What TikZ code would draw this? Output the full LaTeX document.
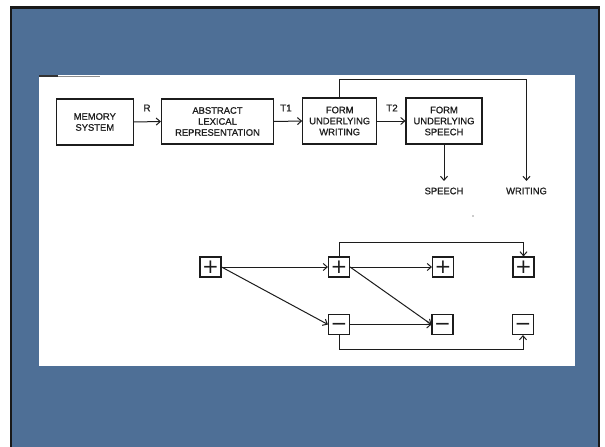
\documentclass[tikz,border=0pt]{standalone}
\usepackage{fontspec}
\setmainfont{Liberation Sans}[FakeBold=0.7]
\newfontfamily\symfont{DejaVu Sans}
\usetikzlibrary{arrows.meta}
\definecolor{bgblue}{RGB}{78,111,150}
\definecolor{ink}{RGB}{28,28,28}
\begin{document}
\begin{tikzpicture}[x=1pt,y=-1pt,
  blk/.style={draw=ink, line width=1.1pt, align=center, font=\fontsize{9.4}{11}\selectfont, text=ink, inner sep=0pt},
  lbl/.style={font=\fontsize{9.8}{11}\selectfont, text=ink, inner sep=0pt},
  endlbl/.style={font=\fontsize{9.4}{11}\selectfont, text=ink, inner sep=0pt},
  arr/.style={draw=ink, line width=1pt, -{Straight Barb[length=4pt,width=7pt]}},
  sgn/.style={draw=ink, line width=1.1pt, minimum width=21pt, minimum height=20pt, inner sep=0pt, font=\symfont\fontsize{20}{20}\selectfont, text=ink}]
\useasboundingbox (0,0) rectangle (605,447);
% slide background
\fill[white] (0,0) rectangle (605,447);
\fill[bgblue] (11,7.5) rectangle (599,447);
\draw[line width=2.2pt, draw=black!90] (11,447) -- (11,7.5) -- (599,7.5) -- (599,447);
% white panel
\fill[white] (39,75) rectangle (575,366);
\draw[line width=1.4pt, black!80] (39,76) -- (58,76);
\draw[line width=0.8pt, black!45] (58,76.5) -- (100,76.5);
\fill[black!40] (473,216) circle (0.8pt);
% top diagram
\node[blk, minimum width=77pt, minimum height=46pt] (mem) at (94.8,122) {MEMORY\\SYSTEM};
\node[blk, minimum width=112pt, minimum height=45pt] (abs) at (217.5,121.5) {ABSTRACT\\LEXICAL\\REPRESENTATION};
\node[blk, minimum width=74pt, minimum height=46pt] (wrt) at (339.7,121) {FORM\\UNDERLYING\\WRITING};
\node[blk, minimum width=76pt, minimum height=46pt] (spc) at (444,121) {FORM\\UNDERLYING\\SPEECH};
\node[lbl] (lR) at (147,108) {R};
\node[lbl] (lT1) at (286,108) {T1};
\node[lbl] (lT2) at (392,108) {T2};
\draw[arr] (mem.east) -- (abs.west);
\draw[arr] (abs.east) -- (wrt.west);
\draw[arr] (wrt.east) -- (spc.west);
\node[endlbl] (spl) at (444,191) {SPEECH};
\node[endlbl] (wrl) at (526.5,191) {WRITING};
\coordinate (wturn) at (526.5,79);
\draw[arr, shorten >=6.5pt] (spc.south) -- (spl.north);
\draw[arr, shorten >=6.5pt] (wrt.north) |- (wturn) -- (wrl.north);
% bottom diagram
\node[sgn] (pL) at (210.5,267) {+};
\node[sgn] (pM) at (339,267) {+};
\node[sgn] (pR) at (443,267) {+};
\node[sgn] (pF) at (523.5,267) {+};
\node[sgn] (mM) at (339,324.5) {\vphantom{+}−};
\node[sgn] (mR) at (442.5,324.5) {\vphantom{+}−};
\node[sgn] (mF) at (523,324.5) {\vphantom{+}−};
\draw[arr] (pL.east) -- (pM.west);
\draw[arr] (pL.east) -- (mM.west);
\draw[arr] (pM.east) -- (pR.west);
\draw[arr] (pM.east) -- (mR.west);
\draw[arr] (mM.east) -- (mR.west);
\draw[arr] (pM.north) -- ++(0,-14) -| (pF.north);
\draw[arr] (mM.south) -- ++(0,14.5) -| (mF.south);
\end{tikzpicture}
\end{document}
